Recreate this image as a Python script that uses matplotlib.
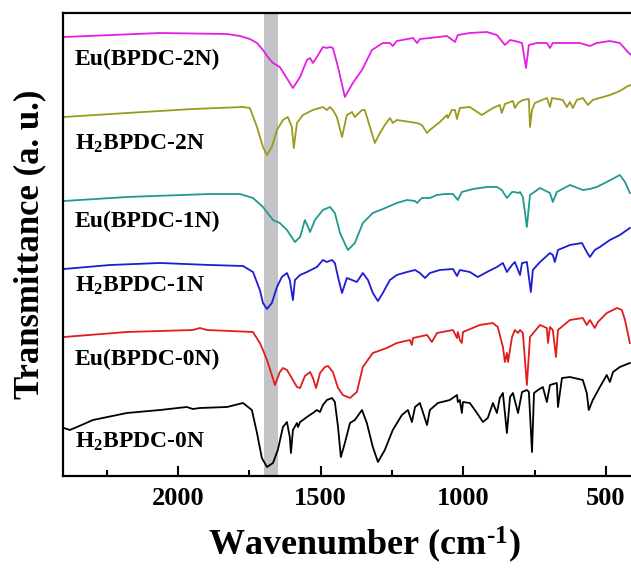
import numpy as np
import matplotlib
matplotlib.use("Agg")
import matplotlib.pyplot as plt

plt.rcParams['font.family'] = ['Liberation Serif', 'DejaVu Serif']
plt.rcParams['font.weight'] = 'bold'
plt.rcParams['mathtext.fontset'] = 'custom'
plt.rcParams['mathtext.rm'] = 'Liberation Serif:bold'
plt.rcParams['mathtext.it'] = 'Liberation Serif:bold:italic'
plt.rcParams['mathtext.bf'] = 'Liberation Serif:bold'
plt.rcParams['mathtext.default'] = 'rm'

#---------------- data (wavenumber cm-1, transmittance a.u. incl. offset) ----------------
wn_eu2 = [2400, 2063, 1828, 1783, 1748, 1723, 1702, 1685, 1667, 1643, 1597, 1572, 1548, 1537, 1527, 1513, 1492,
          1478, 1467, 1457, 1439, 1415, 1387, 1355, 1320, 1282, 1257, 1247, 1233, 1176, 1162,
          1152, 1117, 1057, 1029, 1019, 977, 917, 882, 854, 836, 819, 794, 780, 770, 742, 707,
          696, 686, 591, 556, 532, 486, 451, 423, 412]
t_eu2 = [4.39, 4.43, 4.42, 4.40, 4.37, 4.33, 4.26, 4.19, 4.13, 4.09, 3.88, 3.99, 4.16, 4.18, 4.13, 4.19, 4.29,
         4.28, 4.29, 4.28, 4.09, 3.79, 3.93, 4.06, 4.26, 4.33, 4.33, 4.30, 4.35, 4.38, 4.33,
         4.37, 4.38, 4.40, 4.34, 4.41, 4.43, 4.44, 4.41, 4.31, 4.36, 4.35, 4.33, 4.08, 4.31, 4.33, 4.33,
         4.28, 4.33, 4.33, 4.30, 4.33, 4.35, 4.33, 4.24, 4.21]

wn_h2 = [2400, 2179, 1948, 1772, 1748, 1723, 1702, 1688, 1671, 1653, 1632, 1615, 1601, 1594,
         1583, 1562, 1527, 1492, 1478, 1467, 1457, 1443, 1425, 1408, 1390, 1380, 1355, 1345,
         1327, 1310, 1292, 1275, 1257, 1247, 1233, 1162, 1145, 1127, 1117, 1082, 1057, 1054,
         1040, 1029, 1022, 1012, 977, 935, 896, 872, 865, 854, 826, 819, 808, 791, 770, 766,
         759, 749, 707, 696, 689, 651, 637, 626, 616, 602, 581, 563, 546, 486, 451, 423, 412]
t_h2 = [3.59, 3.63, 3.67, 3.69, 3.68, 3.49, 3.29, 3.21, 3.29, 3.46, 3.56, 3.59, 3.49, 3.28,
        3.53, 3.61, 3.66, 3.69, 3.66, 3.69, 3.66, 3.59, 3.39, 3.61, 3.64, 3.59, 3.66, 3.66,
        3.49, 3.33, 3.43, 3.51, 3.58, 3.53, 3.56, 3.53, 3.51, 3.43, 3.46, 3.54, 3.61, 3.58,
        3.66, 3.66, 3.57, 3.68, 3.69, 3.61, 3.68, 3.71, 3.63, 3.72, 3.75, 3.68, 3.73, 3.76, 3.77, 3.49,
        3.66, 3.73, 3.78, 3.69, 3.78, 3.76, 3.69, 3.74, 3.68, 3.76, 3.78, 3.71, 3.76, 3.81, 3.85, 3.90, 3.91]

wn_eu1 = [2400, 2179, 1888, 1783, 1737, 1702, 1667, 1643, 1618, 1590, 1572, 1555, 1544, 1537,
          1520, 1492, 1467, 1450, 1432, 1408, 1404, 1380, 1352, 1317, 1282, 1233, 1197, 1169,
          1162, 1145, 1117, 1092, 1064, 1036, 1019, 1005, 966, 917, 882, 865, 847, 829, 819,
          808, 801, 791, 777, 766, 731, 696, 686, 672, 626, 581, 556, 532, 497, 451, 433, 416]
t_eu1 = [2.75, 2.79, 2.82, 2.82, 2.78, 2.69, 2.56, 2.53, 2.46, 2.34, 2.39, 2.56, 2.49, 2.44,
         2.56, 2.66, 2.69, 2.63, 2.43, 2.28, 2.26, 2.33, 2.53, 2.63, 2.67, 2.73, 2.76, 2.75,
         2.73, 2.78, 2.78, 2.81, 2.82, 2.82, 2.76, 2.84, 2.87, 2.89, 2.89, 2.86, 2.78, 2.84, 2.84,
         2.83, 2.84, 2.79, 2.49, 2.81, 2.88, 2.83, 2.74, 2.84, 2.91, 2.86, 2.87, 2.89, 2.94, 3.01, 2.94, 2.83]

wn_h1 = [2400, 2238, 2063, 1888, 1772, 1737, 1713, 1702, 1688, 1671, 1653, 1636, 1618, 1608,
         1597, 1590, 1572, 1548, 1513, 1492, 1478, 1460, 1450, 1439, 1425, 1408, 1390, 1373,
         1352, 1334, 1317, 1299, 1282, 1257, 1233, 1197, 1169, 1152, 1134, 1117, 1082, 1036,
         1022, 1012, 977, 949, 917, 882, 861, 847, 829, 819, 801, 794, 777, 763, 756, 731,
         696, 686, 679, 668, 626, 584, 567, 556, 539, 521, 486, 451, 416]
t_h1 = [2.07, 2.11, 2.13, 2.11, 2.10, 2.04, 1.86, 1.73, 1.67, 1.73, 1.89, 1.99, 2.03, 1.96,
        1.76, 1.96, 2.01, 2.04, 2.09, 2.16, 2.14, 2.16, 2.13, 1.99, 1.83, 1.98, 1.96, 1.94,
        2.03, 1.96, 1.83, 1.75, 1.83, 1.96, 2.01, 2.04, 2.06, 2.03, 1.98, 2.03, 2.06, 2.07,
        2.00, 2.06, 2.04, 1.99, 2.04, 2.09, 2.13, 2.04, 2.11, 2.14, 2.01, 2.13, 2.14, 1.84, 2.06, 2.14,
        2.23, 2.21, 2.14, 2.26, 2.31, 2.33, 2.24, 2.19, 2.26, 2.29, 2.36, 2.41, 2.48]

wn_eu0 = [2400, 2179, 1948, 1923, 1898, 1737, 1713, 1702, 1688, 1671, 1660, 1643, 1632, 1618,
          1601, 1583, 1572, 1555, 1537, 1527, 1516, 1502, 1485, 1474, 1457, 1439, 1422, 1397,
          1373, 1352, 1317, 1268, 1233, 1187, 1180, 1176, 1127, 1110, 1092, 1036, 1022, 1019,
          1012, 1005, 1001, 942, 896, 879, 861, 854, 847, 843, 829, 819, 808, 801, 791, 777,
          766, 731, 707, 703, 696, 686, 675, 668, 626, 581, 567, 556, 539, 528, 497, 461, 444, 433, 416]
t_eu0 = [1.39, 1.44, 1.46, 1.48, 1.46, 1.44, 1.33, 1.26, 1.16, 1.01, 0.91, 1.04, 1.08, 1.06,
         0.98, 0.89, 0.88, 1.00, 1.04, 0.98, 0.88, 1.03, 1.09, 1.10, 1.04, 0.88, 0.81, 0.78,
         0.84, 1.09, 1.23, 1.28, 1.33, 1.36, 1.31, 1.38, 1.41, 1.34, 1.43, 1.46, 1.38, 1.44,
         1.36, 1.33, 1.44, 1.51, 1.53, 1.49, 1.29, 1.14, 1.23, 1.14, 1.39, 1.46, 1.43, 1.46, 1.43, 0.91,
         1.39, 1.51, 1.48, 1.33, 1.49, 1.46, 1.19, 1.46, 1.56, 1.58, 1.51, 1.56, 1.48, 1.54, 1.63, 1.68, 1.66, 1.56, 1.33]

wn_h0 = [2400, 2379, 2354, 2298, 2179, 2063, 1969, 1948, 1923, 1828, 1772, 1741, 1723, 1706,
         1688, 1667, 1650, 1632, 1618, 1608, 1604, 1597, 1583, 1579, 1572, 1562, 1548, 1527,
         1513, 1502, 1492, 1478, 1460, 1450, 1439, 1429, 1415, 1397, 1380, 1355, 1338, 1317,
         1299, 1275, 1247, 1215, 1194, 1180, 1169, 1152, 1127, 1117, 1089, 1047, 1022, 1019,
         1012, 1005, 1001, 977, 952, 931, 914, 896, 882, 872, 861, 847, 836, 826, 808, 794,
         777, 770, 759, 752, 738, 721, 707, 696, 672, 668, 654, 626, 581, 567, 560, 546, 521,
         497, 486, 475, 451, 416]
t_h0 = [0.48, 0.46, 0.49, 0.56, 0.63, 0.66, 0.69, 0.67, 0.68, 0.69, 0.73, 0.66, 0.43, 0.18,
        0.09, 0.13, 0.26, 0.49, 0.54, 0.39, 0.23, 0.46, 0.53, 0.49, 0.54, 0.56, 0.59, 0.63,
        0.66, 0.64, 0.71, 0.76, 0.78, 0.74, 0.49, 0.19, 0.33, 0.53, 0.56, 0.66, 0.53, 0.29,
        0.14, 0.26, 0.46, 0.61, 0.66, 0.54, 0.69, 0.73, 0.51, 0.66, 0.73, 0.76, 0.81, 0.74,
        0.76, 0.63, 0.74, 0.73, 0.63, 0.54, 0.58, 0.73, 0.63, 0.78, 0.83, 0.43, 0.79, 0.83, 0.63, 0.84,
        0.86, 0.84, 0.24, 0.83, 0.86, 0.89, 0.74, 0.91, 0.93, 0.69, 0.98, 0.99, 0.96, 0.83, 0.66, 0.76, 0.89,
        1.01, 0.94, 1.04, 1.09, 1.13]

names = ['Eu(BPDC-2N)', 'H$_2$BPDC-2N', 'Eu(BPDC-1N)', 'H$_2$BPDC-1N', 'Eu(BPDC-0N)', 'H$_2$BPDC-0N']
colors = ['#e41ee4', '#9a9a1e', '#209a8e', '#1c1cd2', '#e01c1c', '#000000']
label_y = [4.11, 3.26, 2.49, 1.84, 1.11, 0.28]
band = (1699, 1651)

xs = [wn_eu2, wn_h2, wn_eu1, wn_h1, wn_eu0, wn_h0]
ys = [t_eu2, t_h2, t_eu1, t_h1, t_eu0, t_h0]

#---------------- plot ----------------
fig = plt.figure(figsize=(6.31, 5.72), dpi=100)
ax = fig.add_axes([63/631, 1 - 476/572, 568/631, 463/572])

ax.axvspan(band[0], band[1], color='#c4c4c8', zorder=0, lw=0)
for x, y, c in zip(xs, ys, colors):
    ax.plot(x, y, color=c, lw=1.3, zorder=2, solid_joinstyle='round')
for n, ly in zip(names, label_y):
    ax.text(2362, ly, n, fontsize=17, fontweight='bold', va='baseline', ha='left')

ax.set_xlim(2403, 412)
ax.set_ylim(0, 4.63)
ax.set_xticks([2000, 1500, 1000, 500])
ax.set_xticks([2250, 1750, 1250, 750], minor=True)
ax.set_yticks([])
ax.tick_params(axis='x', which='major', direction='in', length=7, width=1.5,
               labelsize=19, pad=8)
ax.tick_params(axis='x', which='minor', direction='in', length=4, width=1.5)
for s in ['left', 'bottom', 'top']:
    ax.spines[s].set_linewidth(1.6)
ax.spines['right'].set_visible(False)
for lab in ax.get_xticklabels():
    lab.set_fontweight('bold')

ax.set_xlabel('Wavenumber (cm$^{\\text{-}1}$)', fontsize=26, fontweight='bold')
ax.xaxis.set_label_coords(0.53, -0.105)
ax.set_ylabel('Transmittance (a. u.)', fontsize=25, fontweight='bold', labelpad=12)

fig.savefig('out.png', dpi=100)
